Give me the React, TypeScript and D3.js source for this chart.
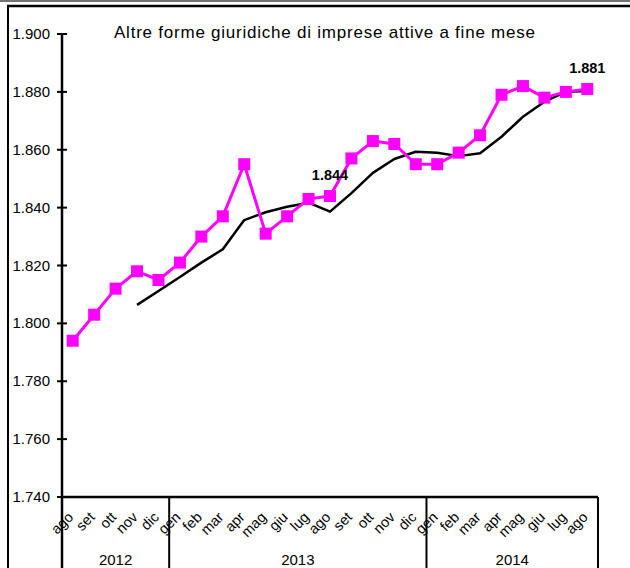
import React from "react";
import * as d3 from "d3";

const months = [
  "ago", "set", "ott", "nov", "dic",
  "gen", "feb", "mar", "apr", "mag", "giu", "lug", "ago", "set", "ott", "nov", "dic",
  "gen", "feb", "mar", "apr", "mag", "giu", "lug", "ago",
];
const years = [
  { label: "2012", count: 5 },
  { label: "2013", count: 12 },
  { label: "2014", count: 8 },
];
const imprese = [
  1794, 1803, 1812, 1818, 1815,
  1821, 1830, 1837, 1855, 1831, 1837, 1843, 1844, 1857, 1863, 1862, 1855,
  1855, 1859, 1865, 1879, 1882, 1878, 1880, 1881,
];
const media: (number | null)[] = [
  null, null, null, 1806.4, 1811.2,
  1816, 1821, 1825.6, 1835.7, 1838.4, 1840.3, 1841.7, 1838.6, 1845, 1852, 1856.8, 1859.3,
  1859, 1857.8, 1858.8, 1864.5, 1871.4, 1876.6, 1880, 1880.3,
];
const yTicks = [1740, 1760, 1780, 1800, 1820, 1840, 1860, 1880, 1900];
const labelled = [12, 24];
const title = "Altre forme giuridiche di imprese attive a fine mese";

const W = 630;
const H = 568;
const FONT = "'Liberation Sans', Arial, sans-serif";

export default function App() {
  const idx = months.map((_, i) => i);
  const x = d3.scaleBand<number>().domain(idx).range([62, 598]).padding(0);
  const cx = (i: number) => (x(i) as number) + x.bandwidth() / 2;
  const y = d3.scaleLinear().domain([1740, 1900]).range([497, 34]);
  const it = d3.formatLocale({ decimal: ",", thousands: ".", grouping: [3], currency: ["€", ""] });
  const fmt = it.format(",d");

  const line1 = d3.line<number>().x((_, i) => cx(i)).y((d) => y(d))(imprese) as string;
  const line2 = d3
    .line<number | null>()
    .defined((d) => d !== null)
    .x((_, i) => cx(i))
    .y((d) => y(d as number))(media) as string;

  const bounds: { label: string; x0: number; x1: number }[] = [];
  let acc = 0;
  years.forEach((g) => {
    const x0 = x(acc) as number;
    const x1 = acc + g.count < months.length ? (x(acc + g.count) as number) : x.range()[1];
    bounds.push({ label: g.label, x0, x1 });
    acc += g.count;
  });

  const y0 = y.range()[0];
  const ax = x.range()[0];

  return (
    <svg
      width={W}
      height={H}
      style={{ position: "absolute", left: 0, top: 0, background: "#fff" }}
      fontFamily={FONT}
    >
      {/* frame */}
      <line x1={0} x2={W} y1={1} y2={1} stroke="#444" strokeWidth={1.5} />
      <line x1={7} x2={W} y1={6} y2={6} stroke="#000" strokeWidth={2.5} />
      <line x1={8} x2={8} y1={5} y2={H} stroke="#000" strokeWidth={2} />

      {/* title */}
      <text x={114} y={38} fontSize={17} textLength={421} lengthAdjust="spacing" fill="#000">
        {title}
      </text>

      {/* y axis */}
      <line x1={ax} x2={ax} y1={y(1900)} y2={H} stroke="#000" strokeWidth={2.5} />
      {yTicks.map((t) => (
        <g key={t}>
          <line x1={ax - 5} x2={ax + 5} y1={y(t)} y2={y(t)} stroke="#000" strokeWidth={2} />
          <text x={50} y={y(t) + 5} fontSize={15} textAnchor="end" fill="#000">
            {fmt(t)}
          </text>
        </g>
      ))}

      {/* x axis */}
      <line x1={ax} x2={x.range()[1]} y1={y0} y2={y0} stroke="#000" strokeWidth={2.5} />
      {bounds.map((b, i) => (
        <g key={i}>
          {i > 0 && <line x1={b.x0} x2={b.x0} y1={y0} y2={H} stroke="#000" strokeWidth={2} />}
          {i === bounds.length - 1 && (
            <line x1={b.x1} x2={b.x1} y1={y0} y2={H} stroke="#000" strokeWidth={2} />
          )}
          <text x={(b.x0 + b.x1) / 2} y={565} fontSize={15} textAnchor="middle" fill="#000">
            {b.label}
          </text>
        </g>
      ))}
      {months.map((m, i) => (
        <text
          key={i}
          transform={`translate(${cx(i) + 1.5},${518}) rotate(-45)`}
          fontSize={14.5}
          textAnchor="end"
          fill="#000"
        >
          {m}
        </text>
      ))}

      {/* series */}
      <path d={line2} fill="none" stroke="#000" strokeWidth={2.5} strokeLinejoin="round" />
      <path d={line1} fill="none" stroke="#FF00FF" strokeWidth={3} strokeLinejoin="round" />
      {imprese.map((v, i) => (
        <rect key={i} x={cx(i) - 6} y={y(v) - 6} width={12} height={12} fill="#FF00FF" />
      ))}

      {/* data labels */}
      {labelled.map((i) => (
        <text
          key={i}
          x={cx(i)}
          y={y(imprese[i]) - 16}
          fontSize={14.5}
          fontWeight="bold"
          textAnchor="middle"
          fill="#000"
        >
          {fmt(imprese[i])}
        </text>
      ))}
    </svg>
  );
}
